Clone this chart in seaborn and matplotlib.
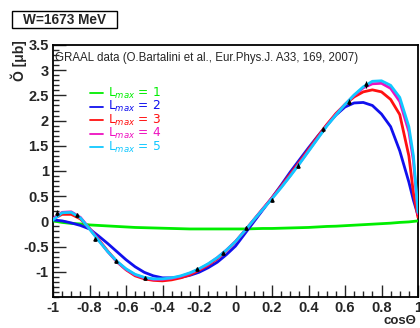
import numpy as np
import pandas as pd
import matplotlib
matplotlib.use("Agg")
import matplotlib.pyplot as plt
import seaborn as sns
from matplotlib.lines import Line2D
from matplotlib.patches import Rectangle
from matplotlib.ticker import MultipleLocator

# ---------------- data ----------------
cos_grid = [-1.00, -0.95, -0.90, -0.85, -0.80, -0.75, -0.70, -0.65, -0.60, -0.55,
            -0.50, -0.45, -0.40, -0.35, -0.30, -0.25, -0.20, -0.15, -0.10, -0.05,
            0.00, 0.05, 0.10, 0.15, 0.20, 0.25, 0.30, 0.35, 0.40, 0.45,
            0.50, 0.55, 0.60, 0.65, 0.70, 0.75, 0.80, 0.85, 0.90, 0.95, 0.975, 1.00]

fit_l1 = [0.01, -0.02, -0.04, -0.05, -0.07, -0.08, -0.09, -0.10, -0.11, -0.12,
          -0.125, -0.13, -0.135, -0.14, -0.145, -0.15, -0.15, -0.15, -0.15, -0.15,
          -0.15, -0.15, -0.145, -0.14, -0.14, -0.135, -0.13, -0.125, -0.12, -0.11,
          -0.10, -0.095, -0.085, -0.075, -0.065, -0.055, -0.045, -0.035, -0.02, -0.01, 0.0, 0.01]
fit_l2 = [0.03, 0.01, -0.03, -0.08, -0.15, -0.29, -0.44, -0.60, -0.76, -0.90,
          -1.01, -1.08, -1.12, -1.12, -1.11, -1.07, -1.01, -0.92, -0.81, -0.66,
          -0.49, -0.25, -0.01, 0.23, 0.47, 0.72, 0.98, 1.22, 1.46, 1.69,
          1.91, 2.11, 2.27, 2.35, 2.36, 2.30, 2.13, 1.88, 1.40, 0.78, 0.42, 0.12]
fit_l3 = [0.05, 0.14, 0.14, 0.05, -0.14, -0.36, -0.59, -0.80, -0.96, -1.08,
          -1.14, -1.17, -1.18, -1.16, -1.12, -1.06, -0.97, -0.87, -0.74, -0.58,
          -0.40, -0.19, 0.03, 0.25, 0.47, 0.70, 0.94, 1.18, 1.43, 1.68,
          1.92, 2.14, 2.32, 2.47, 2.57, 2.61, 2.57, 2.42, 2.12, 1.30, 0.56, 0.08]
fit_l4 = [0.05, 0.18, 0.19, 0.08, -0.14, -0.37, -0.60, -0.80, -0.95, -1.06,
          -1.12, -1.15, -1.15, -1.13, -1.09, -1.03, -0.95, -0.85, -0.72, -0.57,
          -0.40, -0.19, 0.03, 0.25, 0.46, 0.68, 0.91, 1.15, 1.40, 1.65,
          1.90, 2.12, 2.32, 2.50, 2.65, 2.73, 2.74, 2.64, 2.38, 1.78, 1.20, 0.15]
fit_l5 = [0.03, 0.17, 0.18, 0.07, -0.15, -0.38, -0.60, -0.79, -0.94, -1.05,
          -1.11, -1.14, -1.14, -1.12, -1.08, -1.02, -0.94, -0.84, -0.72, -0.57,
          -0.40, -0.19, 0.03, 0.24, 0.45, 0.67, 0.90, 1.14, 1.39, 1.64,
          1.89, 2.11, 2.32, 2.51, 2.67, 2.78, 2.79, 2.70, 2.46, 1.88, 1.30, 0.18]

data_cos = [-0.98, -0.87, -0.77, -0.655, -0.495, -0.21, -0.07, 0.06, 0.20, 0.34, 0.48, 0.62, 0.715]
data_val = [0.17, 0.12, -0.34, -0.79, -1.12, -0.95, -0.63, -0.14, 0.43, 1.10, 1.83, 2.37, 2.72]
data_err = [0.06, 0.04, 0.04, 0.04, 0.04, 0.04, 0.04, 0.04, 0.04, 0.05, 0.05, 0.06, 0.07]

lmax_labels = ["1", "2", "3", "4", "5"]
colors = ["#00ee00", "#1010ee", "#ff1010", "#ee10c0", "#10c8ff"]

x_ticks = [-1, -0.8, -0.6, -0.4, -0.2, 0, 0.2, 0.4, 0.6, 0.8, 1]
x_tick_labels = ["-1", "-0.8", "-0.6", "-0.4", "-0.2", "0", "0.2", "0.4", "0.6", "0.8", "1"]
y_ticks = [-1, -0.5, 0, 0.5, 1, 1.5, 2, 2.5, 3, 3.5]
y_tick_labels = ["-1", "-0.5", "0", "0.5", "1", "1.5", "2", "2.5", "3", "3.5"]

# ---------------- figure ----------------
sns.set_style("ticks")
plt.rcParams["font.family"] = ["Liberation Sans", "DejaVu Sans"]
plt.rcParams["mathtext.fontset"] = "dejavusans"

W, H = 420, 328
fig = plt.figure(figsize=(W / 100, H / 100), dpi=100)
ax = fig.add_axes([53 / W, 31 / H, 365 / W, 252 / H])

fits = [fit_l1, fit_l2, fit_l3, fit_l4, fit_l5]
rows = []
for lab, vals in zip(lmax_labels, fits):
    for c, v in zip(cos_grid, vals):
        rows.append({"cos": c, "val": v, "L": lab})
df = pd.DataFrame(rows)

sns.lineplot(data=df, x="cos", y="val", hue="L", palette=colors, sort=False,
             linewidth=2.0, legend=False, ax=ax, zorder=3)

ax.errorbar(data_cos, data_val, yerr=data_err, fmt="^", color="black",
            markersize=2.3, elinewidth=0.8, capsize=0, zorder=5)

ax.set_xlim(-1, 1)
ax.set_ylim(-1.5, 3.5)
ax.set_xticks(x_ticks)
ax.set_xticklabels(x_tick_labels)
ax.set_yticks(y_ticks)
ax.set_yticklabels(y_tick_labels)
ax.xaxis.set_minor_locator(MultipleLocator(0.05))
ax.yaxis.set_minor_locator(MultipleLocator(0.1))
ax.tick_params(which="both", direction="in", top=False, right=False, width=1.0)
ax.tick_params(which="major", length=9, labelsize=10.5, pad=3)
ax.tick_params(which="minor", length=4.5)
for lab in ax.get_xticklabels() + ax.get_yticklabels():
    lab.set_fontweight("bold")
for s in ax.spines.values():
    s.set_linewidth(1.3)
    s.set_color("black")
ax.set_xlabel("")
ax.set_ylabel("")

ax.text(0.006, 0.95, "GRAAL data (O.Bartalini et al., Eur.Phys.J. A33, 169, 2007)",
        transform=ax.transAxes, ha="left", va="center", fontsize=8.3)

# legend (manual, ROOT style)
for i, (lab, col) in enumerate(zip(lmax_labels, colors)):
    yp = 1 - (93 + 13.5 * i) / H
    fig.add_artist(Line2D([90 / W, 103 / W], [yp, yp], color=col, lw=1.3,
                          transform=fig.transFigure))
    fig.text(108 / W, yp, "L$_{max}$ = " + lab, color=col, fontsize=8.8,
             ha="left", va="center", family="DejaVu Sans")

# title box
fig.add_artist(Rectangle((12 / W, 1 - 28 / H), 105 / W, 17 / H, transform=fig.transFigure,
                         facecolor="white", edgecolor="black", lw=1.0))
fig.text(64.5 / W, 1 - 19.5 / H, "W=1673 MeV", ha="center", va="center",
         fontsize=9.8, fontweight="bold")

# axis titles
fig.text(19 / W, 1 - 40 / H, "Ŏ [μb]", rotation=90, ha="center", va="top",
         fontsize=10, fontweight="bold")
fig.text(416 / W, 1 - 321.5 / H, "cosΘ", ha="right", va="center",
         fontsize=9.5, fontweight="bold")

fig.savefig("out.png", dpi=100)
